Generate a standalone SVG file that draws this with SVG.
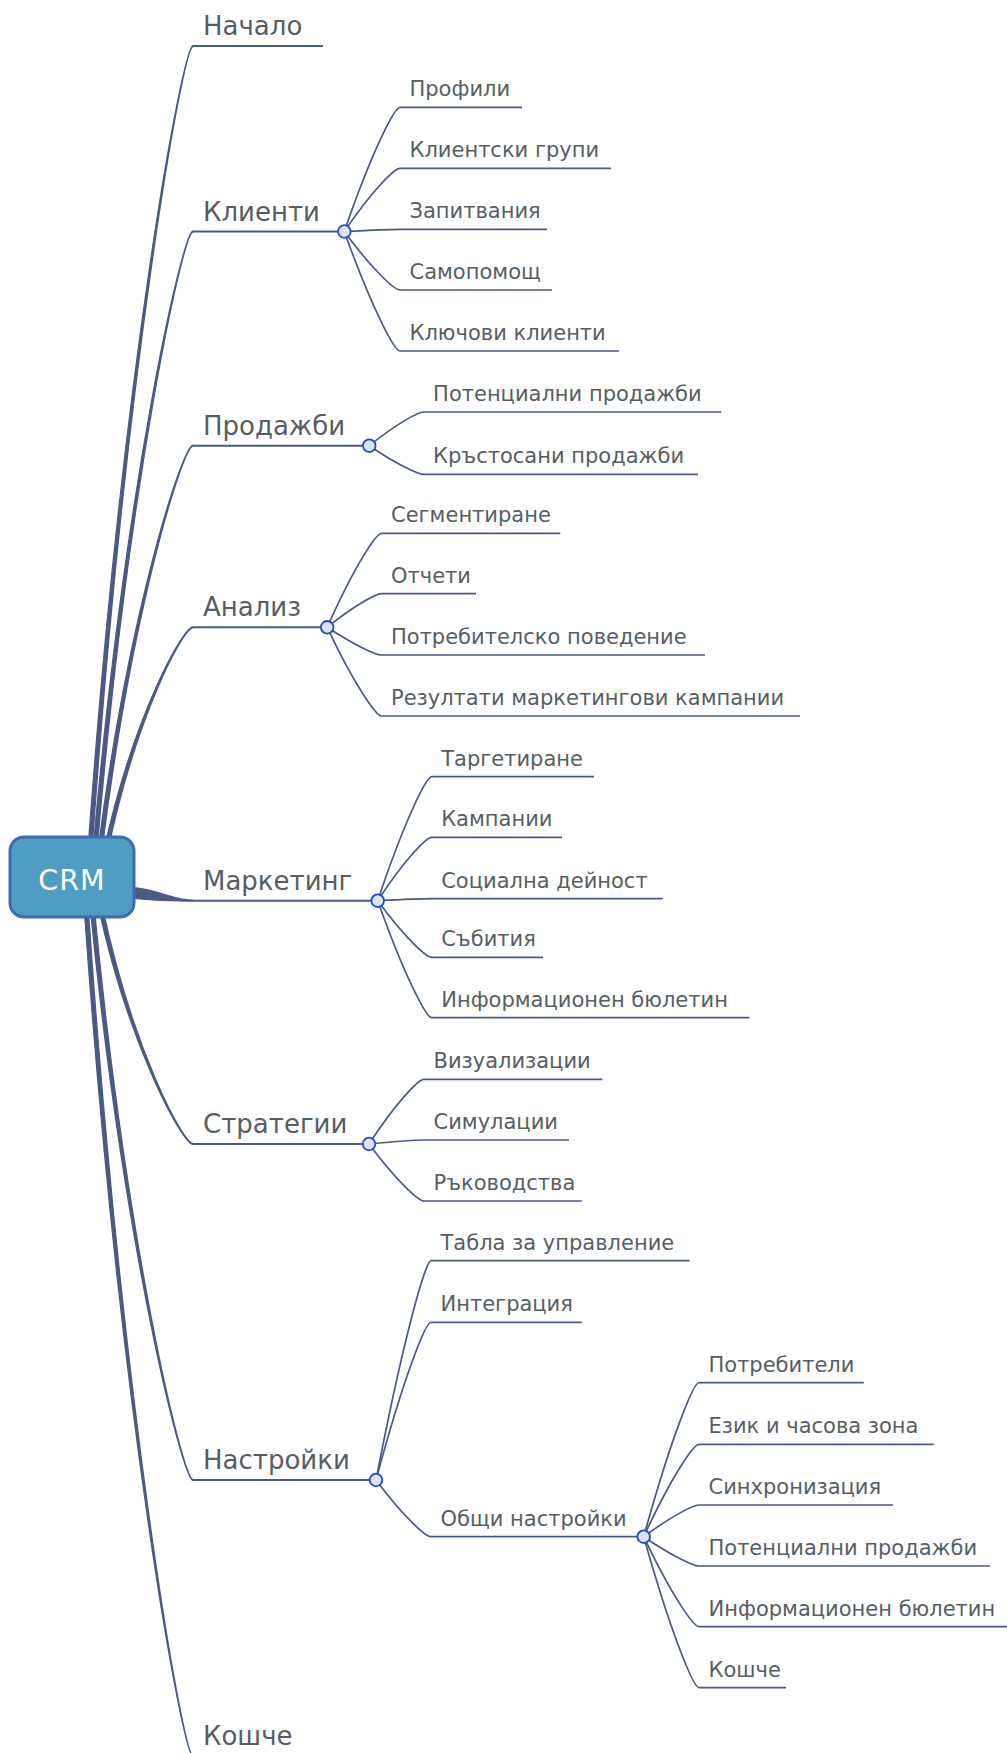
<svg xmlns="http://www.w3.org/2000/svg" width="1007" height="1753" viewBox="0 0 1007 1753">
<style>
.bg{fill:#ffffff}
.root{fill:#4f9dc3;stroke:#3a6db3;stroke-width:3}
.roott{font-family:"DejaVu Sans",sans-serif;font-size:28.5px;letter-spacing:1px;fill:#ffffff;text-anchor:middle}
.main{font-family:"DejaVu Sans",sans-serif;font-size:26px;fill:#565e64}
.sub{font-family:"DejaVu Sans",sans-serif;font-size:21px;fill:#565e64}
.taper{fill:#4b5a84;stroke:#4b5a84;stroke-width:1.3;stroke-linejoin:round}
.ul{fill:none;stroke:#4b5a84;stroke-width:2}
.br{fill:none;stroke:#4b5a84;stroke-width:1.7}
.dot{fill:#dce2ee;stroke:#1f4fc6;stroke-width:1.8}
</style>
<rect class="bg" x="0" y="0" width="1007" height="1753"/>
<g id="connectors">
  <!-- root to main topics (tapered) -->
  <path class="taper" d="M88 850 C122.5 367.6 183 45.5 193 45.5 L193 46.5 C183 46.5 125.5 367.6 92 850 Z"/>
  <path class="taper" d="M93 850 C125.8 478.9 183 231 193 231 L193 232 C183 232 128.8 478.9 97 850 Z"/>
  <path class="taper" d="M98 850 C129.2 607.4 183 445.2 193 445.2 L193 446.2 C183 446.2 132.2 607.4 102 850 Z"/>
  <path class="taper" d="M104 850 C133.2 716.4 183 626.8 193 626.8 L193 627.8 C183 627.8 136.2 716.4 108 850 Z"/>
  <path class="taper" d="M130 887.5 C160 889.5 172 900.2 193 900.2 L193 901.2 C172 901.2 160 901 130 898 Z"/>
  <path class="taper" d="M98 905 C129.2 1048.4 183 1144.5 193 1144.5 L193 1143.5 C183 1143.5 132.2 1048.4 102 905 Z"/>
  <path class="taper" d="M90 905 C123.8 1250 183 1480.5 193 1480.5 L193 1479.5 C183 1479.5 126.8 1250 94 905 Z"/>
  <path class="taper" d="M84 905 C119.8 1415.6 183 1756.5 193 1756.5 L193 1755.5 C183 1755.5 122.8 1415.6 88 905 Z"/>
  <!-- main underlines -->
  <path class="ul" d="M193 46 H323"/>
  <path class="ul" d="M193 231.5 H344.3"/>
  <path class="ul" d="M193 445.7 H369.3"/>
  <path class="ul" d="M193 627.3 H327.2"/>
  <path class="ul" d="M193 900.7 H377.7"/>
  <path class="ul" d="M193 1144 H369"/>
  <path class="ul" d="M193 1480 H376"/>
  <path class="ul" d="M193 1756 H300"/>
  <!-- Клиенти -->
  <path class="br" d="M344.3 231.5 C372.2 150.8 394.4 107.3 400 107.3 H522"/>
  <path class="br" d="M344.3 231.5 C372.2 190.4 394.4 168.3 400 168.3 H611"/>
  <path class="br" d="M344.3 231.5 C372.2 230.1 394.4 229.3 400 229.3 H547"/>
  <path class="br" d="M344.3 231.5 C372.2 269.5 394.4 290 400 290 H552"/>
  <path class="br" d="M344.3 231.5 C372.2 309.2 394.4 351 400 351 H619"/>
  <!-- Продажби -->
  <path class="br" d="M369.3 445.7 C396.5 423.8 418.2 412 423.6 412 H721.4"/>
  <path class="br" d="M369.3 445.7 C396.5 464.3 418.2 474.3 423.6 474.3 H698"/>
  <!-- Анализ -->
  <path class="br" d="M327.2 627.3 C354.4 566.2 376.1 533.3 381.5 533.3 H560.3"/>
  <path class="br" d="M327.2 627.3 C354.4 605.5 376.1 593.7 381.5 593.7 H476"/>
  <path class="br" d="M327.2 627.3 C354.4 645.3 376.1 655 381.5 655 H705"/>
  <path class="br" d="M327.2 627.3 C354.4 685 376.1 716 381.5 716 H800"/>
  <!-- Маркетинг -->
  <path class="br" d="M377.7 900.7 C404.7 820.1 426.3 776.7 431.7 776.7 H594"/>
  <path class="br" d="M377.7 900.7 C404.7 859.5 426.3 837.3 431.7 837.3 H562"/>
  <path class="br" d="M377.7 900.7 C404.7 899.4 426.3 898.7 431.7 898.7 H662.7"/>
  <path class="br" d="M377.7 900.7 C404.7 937.5 426.3 957.3 431.7 957.3 H543"/>
  <path class="br" d="M377.7 900.7 C404.7 976.8 426.3 1017.7 431.7 1017.7 H749.3"/>
  <!-- Стратегии -->
  <path class="br" d="M369 1144 C396.5 1101.9 418.5 1079.3 424 1079.3 H602.3"/>
  <path class="br" d="M369 1144 C396.5 1141.4 418.5 1140 424 1140 H569"/>
  <path class="br" d="M369 1144 C396.5 1181 418.5 1201 424 1201 H581.7"/>
  <!-- Настройки -->
  <path class="br" d="M376 1480 C403.5 1337.5 425.5 1260.7 431 1260.7 H689.6"/>
  <path class="br" d="M376 1480 C403.5 1377.5 425.5 1322.3 431 1322.3 H581.7"/>
  <path class="br" d="M376 1480 C403.5 1516.9 425.5 1536.7 431 1536.7 H643.7"/>
  <!-- Общи настройки -->
  <path class="br" d="M643.7 1536.7 C671.4 1436.6 693.5 1382.7 699 1382.7 H863.8"/>
  <path class="br" d="M643.7 1536.7 C671.4 1476.6 693.5 1444.3 699 1444.3 H933.7"/>
  <path class="br" d="M643.7 1536.7 C671.4 1516.1 693.5 1505 699 1505 H893"/>
  <path class="br" d="M643.7 1536.7 C671.4 1555.7 693.5 1566 699 1566 H990"/>
  <path class="br" d="M643.7 1536.7 C671.4 1595.2 693.5 1626.7 699 1626.7 H1007"/>
  <path class="br" d="M643.7 1536.7 C671.4 1634.9 693.5 1687.7 699 1687.7 H786"/>
</g>
<g id="node-crm">
  <rect class="root" x="10" y="837" width="124" height="80" rx="14"/>
  <text class="roott" x="72" y="890">CRM</text>
</g>
<g id="node-nachalo"><text class="main" x="203" y="35">Начало</text></g>
<g id="node-klienti"><text class="main" x="203" y="220.5">Клиенти</text><circle class="dot" cx="344.3" cy="231.5" r="6.3"/></g>
<g id="node-profili"><text class="sub" x="409.5" y="96.3">Профили</text></g>
<g id="node-klientski-grupi"><text class="sub" x="409.5" y="157.3">Клиентски групи</text></g>
<g id="node-zapitvania"><text class="sub" x="409.5" y="218.3">Запитвания</text></g>
<g id="node-samopomosht"><text class="sub" x="409.5" y="279">Самопомощ</text></g>
<g id="node-klyuchovi"><text class="sub" x="409.5" y="340">Ключови клиенти</text></g>
<g id="node-prodazhbi"><text class="main" x="203" y="434.7">Продажби</text><circle class="dot" cx="369.3" cy="445.7" r="6.3"/></g>
<g id="node-potencialni"><text class="sub" x="433.1" y="401">Потенциални продажби</text></g>
<g id="node-krastosani"><text class="sub" x="433.1" y="463.3">Кръстосани продажби</text></g>
<g id="node-analiz"><text class="main" x="203" y="616.3">Анализ</text><circle class="dot" cx="327.2" cy="627.3" r="6.3"/></g>
<g id="node-segmentirane"><text class="sub" x="391" y="522.3">Сегментиране</text></g>
<g id="node-otcheti"><text class="sub" x="391" y="582.7">Отчети</text></g>
<g id="node-povedenie"><text class="sub" x="391" y="644">Потребителско поведение</text></g>
<g id="node-rezultati"><text class="sub" x="391" y="705">Резултати маркетингови кампании</text></g>
<g id="node-marketing"><text class="main" x="203" y="889.7">Маркетинг</text><circle class="dot" cx="377.7" cy="900.7" r="6.3"/></g>
<g id="node-targetirane"><text class="sub" x="441.2" y="765.7">Таргетиране</text></g>
<g id="node-kampanii"><text class="sub" x="441.2" y="826.3">Кампании</text></g>
<g id="node-socialna"><text class="sub" x="441.2" y="887.7">Социална дейност</text></g>
<g id="node-sabitia"><text class="sub" x="441.2" y="946.3">Събития</text></g>
<g id="node-byuletin1"><text class="sub" x="441.2" y="1006.7">Информационен бюлетин</text></g>
<g id="node-strategii"><text class="main" x="203" y="1133">Стратегии</text><circle class="dot" cx="369" cy="1144" r="6.3"/></g>
<g id="node-vizualizacii"><text class="sub" x="433.5" y="1068.3">Визуализации</text></g>
<g id="node-simulacii"><text class="sub" x="433.5" y="1129">Симулации</text></g>
<g id="node-rakovodstva"><text class="sub" x="433.5" y="1190">Ръководства</text></g>
<g id="node-nastroyki"><text class="main" x="203" y="1469">Настройки</text><circle class="dot" cx="376" cy="1480" r="6.3"/></g>
<g id="node-tabla"><text class="sub" x="440.5" y="1249.7">Табла за управление</text></g>
<g id="node-integracia"><text class="sub" x="440.5" y="1311.3">Интеграция</text></g>
<g id="node-obshti"><text class="sub" x="440.5" y="1525.7">Общи настройки</text><circle class="dot" cx="643.7" cy="1536.7" r="6.3"/></g>
<g id="node-potrebiteli"><text class="sub" x="708.5" y="1371.7">Потребители</text></g>
<g id="node-ezik"><text class="sub" x="708.5" y="1433.3">Език и часова зона</text></g>
<g id="node-sinhronizacia"><text class="sub" x="708.5" y="1494">Синхронизация</text></g>
<g id="node-potencialni2"><text class="sub" x="708.5" y="1555">Потенциални продажби</text></g>
<g id="node-byuletin2"><text class="sub" x="708.5" y="1615.7">Информационен бюлетин</text></g>
<g id="node-koshche2"><text class="sub" x="708.5" y="1676.7">Кошче</text></g>
<g id="node-koshche"><text class="main" x="203" y="1745">Кошче</text></g>
</svg>
